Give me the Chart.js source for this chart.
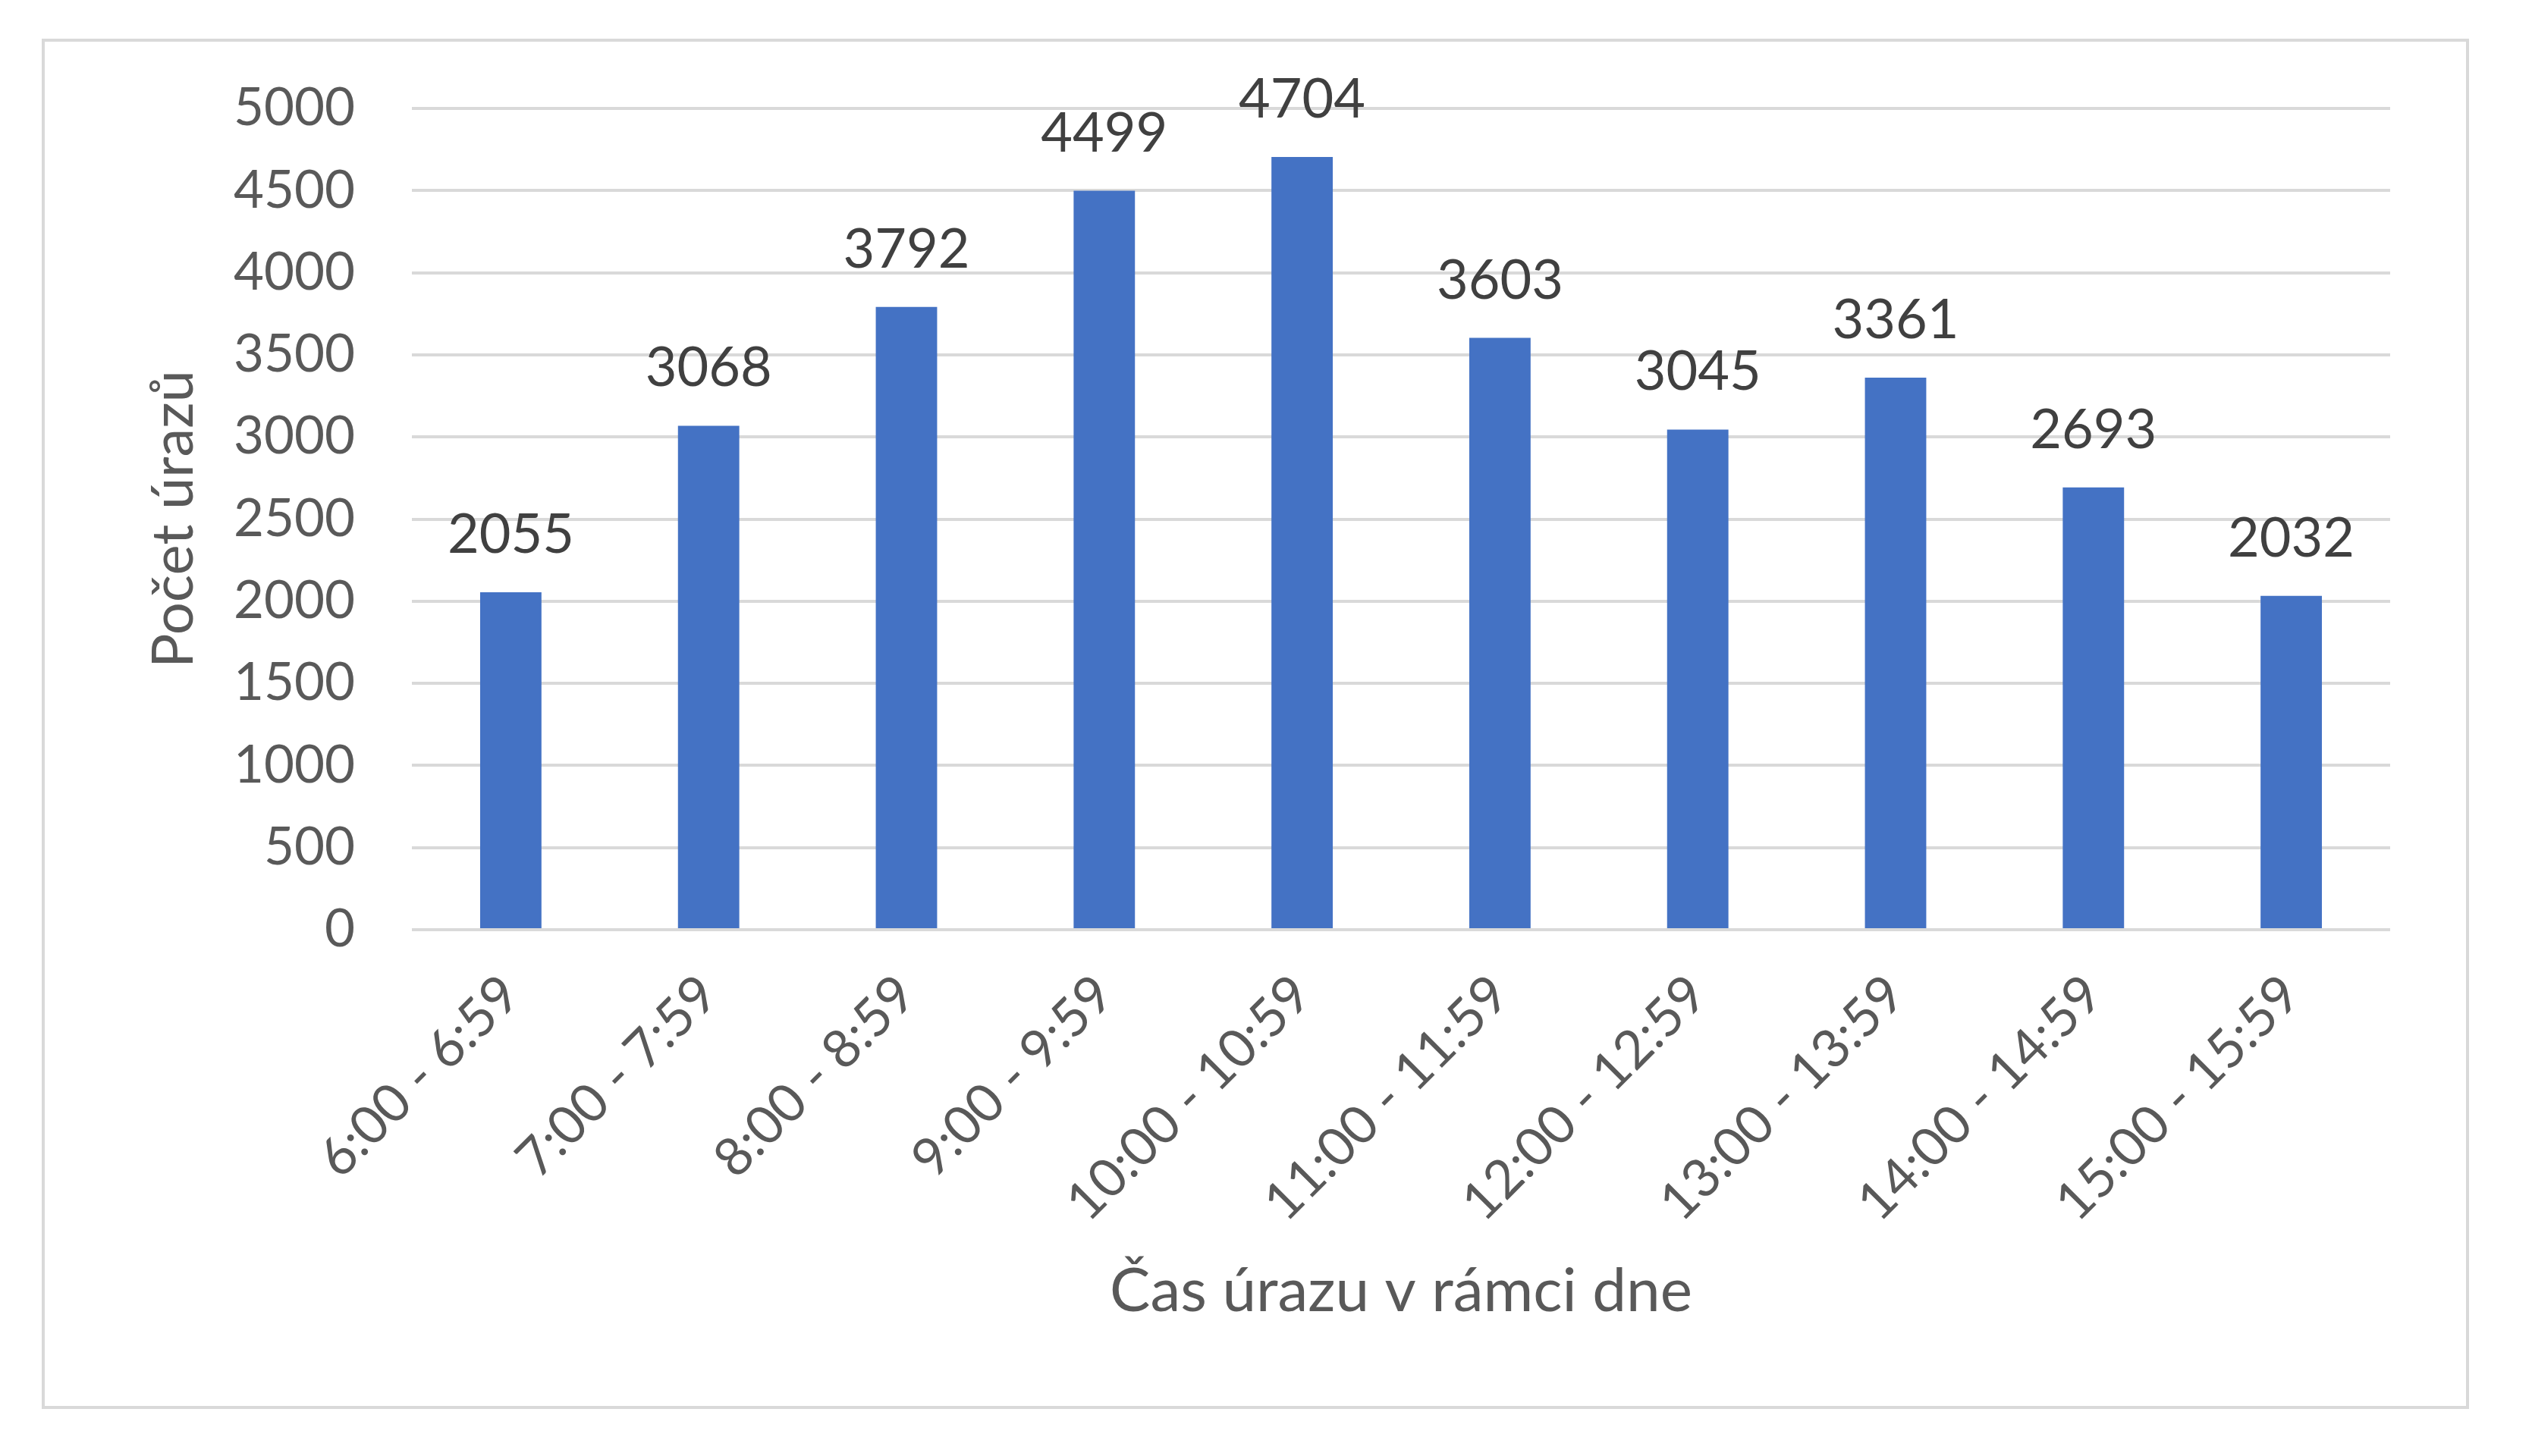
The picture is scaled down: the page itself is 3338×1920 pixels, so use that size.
<!DOCTYPE html>
<html>
<head>
<meta charset="utf-8">
<script src="https://cdn.jsdelivr.net/npm/chart.js@4.4.1/dist/chart.umd.min.js"></script>
<style>
  html, body { margin: 0; padding: 0; background: #ffffff; }
  #wrap { width: 3338px; height: 1920px; }
</style>
</head>
<body>
<div id="wrap"><canvas id="urazyChart" width="3338" height="1920"></canvas></div>
<script>
// data
const categories = ['6:00 - 6:59', '7:00 - 7:59', '8:00 - 8:59', '9:00 - 9:59', '10:00 - 10:59',
  '11:00 - 11:59', '12:00 - 12:59', '13:00 - 13:59', '14:00 - 14:59', '15:00 - 15:59'];
const pocetUrazu = [2055, 3068, 3792, 4499, 4704, 3603, 3045, 3361, 2693, 2032];
const yTicks = [0, 500, 1000, 1500, 2000, 2500, 3000, 3500, 4000, 4500, 5000];

const fontFamily = 'Lato, "Open Sans", sans-serif';

// frame around the whole chart (like the Excel chart area)
const framePlugin = {
  id: 'frame',
  beforeDraw(chart) {
    const ctx = chart.ctx;
    ctx.save();
    ctx.fillStyle = '#ffffff';
    ctx.fillRect(0, 0, chart.width, chart.height);
    ctx.strokeStyle = '#d9d9d9';
    ctx.lineWidth = 4;
    ctx.strokeRect(57, 53, 3196, 1803);
    ctx.restore();
  }
};

// value labels above each bar
const valueLabels = {
  id: 'valueLabels',
  afterDatasetsDraw(chart) {
    const ctx = chart.ctx;
    const meta = chart.getDatasetMeta(0);
    ctx.save();
    ctx.font = '72px ' + fontFamily;
    ctx.fillStyle = '#404040';
    ctx.textAlign = 'center';
    ctx.textBaseline = 'alphabetic';
    meta.data.forEach((bar, i) => {
      ctx.fillText(String(pocetUrazu[i]), bar.x, bar.y - 52);
    });
    ctx.restore();
  }
};

new Chart(document.getElementById('urazyChart'), {
  type: 'bar',
  data: {
    labels: categories,
    datasets: [{
      label: 'Počet úrazů',
      data: pocetUrazu,
      backgroundColor: '#4472c4',
      categoryPercentage: 1.0,
      barPercentage: 0.31
    }]
  },
  options: {
    responsive: false,
    animation: false,
    devicePixelRatio: 1,
    layout: { padding: { left: 62, right: 187, top: 143, bottom: 0 } },
    plugins: {
      legend: { display: false },
      tooltip: { enabled: false }
    },
    scales: {
      x: {
        grid: { display: false },
        border: { display: false },
        ticks: {
          color: '#595959',
          font: { family: fontFamily, size: 70 },
          minRotation: 45,
          maxRotation: 45,
          padding: 36
        },
        title: {
          display: true,
          text: 'Čas úrazu v rámci dne',
          color: '#595959',
          font: { family: fontFamily, size: 80 },
          padding: { top: 0, bottom: 169 }
        },
        afterFit(scale) { scale.height = 694; }
      },
      y: {
        min: 0,
        max: 5000,
        afterBuildTicks(scale) { scale.ticks = yTicks.map(v => ({ value: v })); },
        grid: { color: '#d9d9d9', lineWidth: 4, drawTicks: false },
        border: { display: false },
        ticks: {
          color: '#595959',
          font: { family: fontFamily, size: 69 },
          padding: 75,
          callback: (v) => String(v)
        },
        title: {
          display: true,
          text: 'Počet úrazů',
          color: '#595959',
          font: { family: fontFamily, size: 76 },
          padding: { top: 122, bottom: 0 }
        },
        afterFit(scale) { scale.width = 481; }
      }
    }
  },
  plugins: [framePlugin, valueLabels]
});
</script>
</body>
</html>
